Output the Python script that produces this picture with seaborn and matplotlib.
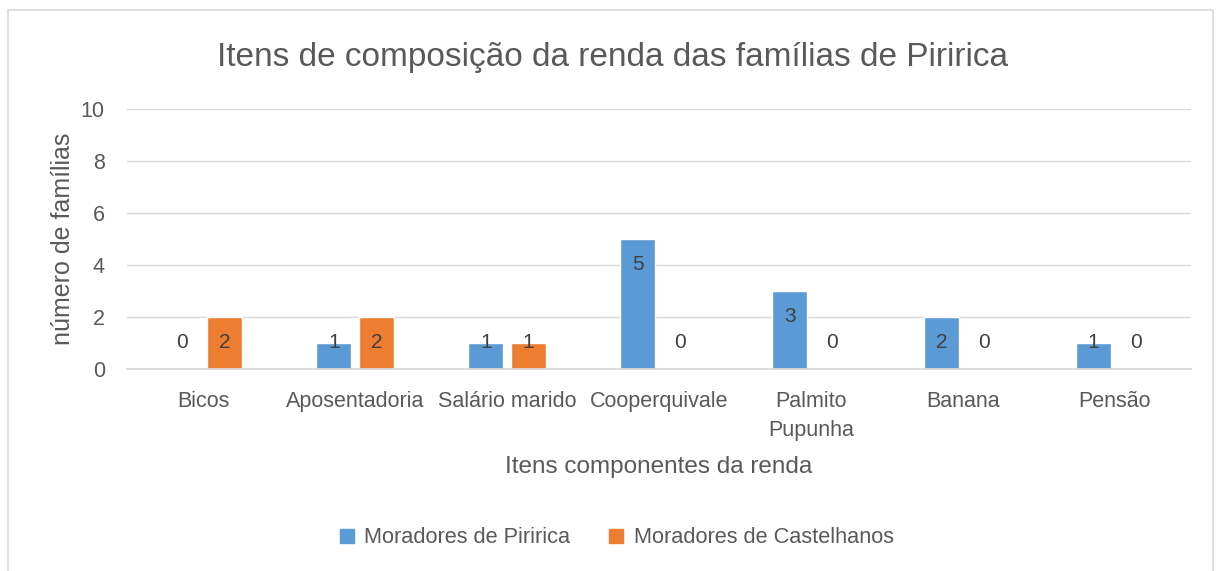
import matplotlib.pyplot as plt
import pandas as pd
import seaborn as sns
from matplotlib.lines import Line2D

CATEGORIES = [
    "Bicos",
    "Aposentadoria",
    "Salário marido",
    "Cooperquivale",
    "Palmito\nPupunha",
    "Banana",
    "Pensão",
]
PIRIRICA = [0, 1, 1, 5, 3, 2, 1]
CASTELHANOS = [2, 2, 1, 0, 0, 0, 0]
SERIES = ["Moradores de Piririca", "Moradores de Castelhanos"]
COLORS = ["#5B9BD5", "#ED7D31"]
Y_TICKS = [0, 2, 4, 6, 8, 10]

TEXT = "#595959"
GRID = "#D9D9D9"
FONT = ["Liberation Sans", "DejaVu Sans"]


def main() -> None:
    df = pd.DataFrame(
        {
            "item": CATEGORIES * 2,
            "grupo": [SERIES[0]] * len(CATEGORIES) + [SERIES[1]] * len(CATEGORIES),
            "familias": PIRIRICA + CASTELHANOS,
        }
    )

    sns.set_theme(style="white")
    plt.rcParams["font.family"] = FONT

    fig = plt.figure(figsize=(12.17, 5.71), dpi=100)
    ax = fig.add_axes([0.1044, 0.3538, 0.8742, 0.4553])

    sns.barplot(
        data=df,
        x="item",
        y="familias",
        hue="grupo",
        hue_order=SERIES,
        palette=COLORS,
        width=0.56,
        gap=0.18,
        saturation=1,
        errorbar=None,
        ax=ax,
        legend=False,
    )

    for patch in ax.patches:
        h = patch.get_height()
        ax.text(
            patch.get_x() + patch.get_width() / 2,
            max(h - 1, 1),
            f"{h:.0f}",
            ha="center",
            va="center",
            fontsize=15,
            color="#404040",
        )

    ax.set_ylim(0, 10)
    ax.set_xlim(-0.5, len(CATEGORIES) - 0.5)
    ax.set_yticks(Y_TICKS)
    ax.yaxis.grid(True, color=GRID, linewidth=1)
    ax.set_axisbelow(True)
    for side in ["left", "right", "top"]:
        ax.spines[side].set_visible(False)
    ax.spines["bottom"].set_color(GRID)
    ax.tick_params(axis="both", length=0, labelsize=15.5, labelcolor=TEXT)
    ax.tick_params(axis="y", pad=16)
    ax.tick_params(axis="x", pad=16)
    for lbl in ax.get_xticklabels():
        lbl.set_linespacing(1.5)

    ax.set_xlabel("Itens componentes da renda", fontsize=17.5, color=TEXT, labelpad=11)
    ax.set_ylabel("número de famílias", fontsize=18, color=TEXT, labelpad=4)
    fig.text(
        0.503,
        0.9,
        "Itens de composição da renda das famílias de Piririca",
        ha="center",
        va="center",
        fontsize=24,
        color=TEXT,
    )

    handles = [
        Line2D([], [], marker="s", linestyle="none", markersize=10,
               markerfacecolor=c, markeredgecolor=c)
        for c in COLORS
    ]
    fig.legend(
        handles,
        SERIES,
        loc="center",
        bbox_to_anchor=(0.506, 0.058),
        ncol=2,
        frameon=False,
        fontsize=15.7,
        labelcolor=TEXT,
        handlelength=0.8,
        handletextpad=0.4,
        columnspacing=1.7,
    )

    # chart border like the spreadsheet frame
    for xs, ys in [((0.0066, 0.0066), (0.0, 0.982)),
                   ((0.0066, 0.9967), (0.982, 0.982)),
                   ((0.9967, 0.9967), (0.0, 0.982))]:
        fig.add_artist(Line2D(xs, ys, color=GRID, linewidth=1.2,
                              transform=fig.transFigure))

    fig.savefig("out.png", dpi=100)


if __name__ == "__main__":
    main()
